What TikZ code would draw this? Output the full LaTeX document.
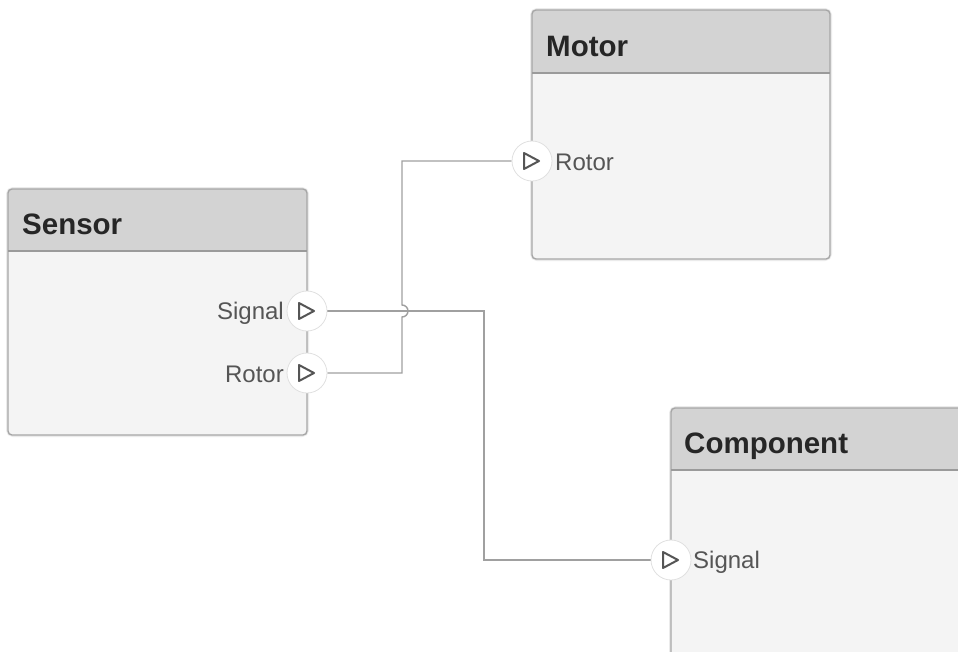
\documentclass[tikz,border=0pt]{standalone}
\usepackage{fontspec}
\setmainfont{Liberation Sans}
\usetikzlibrary{calc}

\definecolor{hdrfill}{HTML}{D3D3D3}
\definecolor{bodyfill}{HTML}{F4F4F4}
\definecolor{edgec}{HTML}{A6A6A6}
\definecolor{sepc}{HTML}{9A9A9A}
\definecolor{wirec}{HTML}{A0A0A0}
\definecolor{titlec}{HTML}{262626}
\definecolor{portc}{HTML}{555555}

\pgfdeclarelayer{blocks}
\pgfdeclarelayer{wires}
\pgfsetlayers{blocks,wires,main}

\tikzset{
  blockbody/.style={fill=bodyfill, rounded corners=4pt, anchor=north west,
    inner sep=0pt, outer sep=0pt},
  blockhalo/.style={draw=black!8, line width=4pt, rounded corners=5pt},
  blockedge/.style={draw=edgec, line width=1.4pt, rounded corners=4pt},
  blocksep/.style={draw=sepc, line width=1.4pt},
  blocktitle/.style={font=\fontsize{29.5}{32}\selectfont\bfseries, text=titlec,
    anchor=base west, inner sep=0pt},
  portdisc/.style={circle, fill=white, draw=black!12, line width=0.8pt,
    minimum size=40pt, inner sep=0pt},
  portlabel/.style={font=\fontsize{24}{28}\selectfont, text=portc, inner sep=0pt},
  wire/.style={draw=wirec, line width=1.4pt},
  portarrow/.style={draw=portc, line width=2pt, line join=round}
}

% a block: body node, grey title band, outline and separator
\newcommand\sysblock[6]{% name, x, y, width, height, title-band height
  \draw[blockhalo] (#2,#3) rectangle ++(#4,#5);
  \node[blockbody, minimum width=#4pt, minimum height=#5pt] (#1) at (#2,#3) {};
  \fill[hdrfill, rounded corners=4pt] ($(#1.north west)+(0,#6)$) -- (#1.north west)
     -- (#1.north east) [sharp corners] -- ($(#1.north east)+(0,#6)$) -- cycle;
  \draw[blockedge] (#1.north west) rectangle (#1.south east);
  \draw[blocksep] ($(#1.north west)+(0,#6)$) -- ($(#1.north east)+(0,#6)$);
}

% the right-pointing port arrow inside a port disc
\newcommand\portmark[1]{%
  \draw[portarrow] ($(#1)+(-8,-8)$) -- ($(#1)+(7,0)$) -- ($(#1)+(-8,8)$) -- cycle;
}

\begin{document}
\begin{tikzpicture}[x=1pt,y=-1pt]
  \useasboundingbox (0,0) rectangle (958,651);
  \clip (0,0) rectangle (958,651);

  % blocks
  \begin{pgfonlayer}{blocks}
    \sysblock{sensor}{8}{189}{299}{246}{62}
    \sysblock{motor}{532}{10}{298}{249}{63}
    \sysblock{component}{671}{408}{320}{280}{62}
  \end{pgfonlayer}

  \node[blocktitle] (sensorTitle) at (22,234) {Sensor};
  \node[blocktitle] (motorTitle) at (546,56) {Motor};
  \node[blocktitle] (componentTitle) at (684,453) {Component};

  % ports
  \node[portdisc] (sSig) at (307,311) {};
  \node[portdisc] (sRot) at (307,373) {};
  \node[portdisc] (mRot) at (532,161) {};
  \node[portdisc] (cSig) at (671,560) {};

  \portmark{sSig}
  \portmark{sRot}
  \portmark{mRot}
  \portmark{cSig}

  % connectors, with a hop where the Rotor line crosses the Signal line
  \coordinate (sigBend) at (484,400);
  \coordinate (rotBendLow) at (402,373);
  \coordinate (hopStart) at (402,317);
  \coordinate (rotBendHigh) at (402,161);

  \begin{pgfonlayer}{wires}
    \draw[wire] (sSig.east) -| (sigBend) |- (cSig.west);
    \draw[wire] (sRot.east) -- (rotBendLow) -- (hopStart)
       arc[start angle=-90, end angle=90, radius=6pt] -- (rotBendHigh) -- (mRot.west);
  \end{pgfonlayer}

  % port labels
  \node[portlabel, anchor=base east] (sSigLabel) at (284,319) {Signal};
  \node[portlabel, anchor=base east] (sRotLabel) at (284,382) {Rotor};
  \node[portlabel, anchor=base west] (mRotLabel) at (555,170) {Rotor};
  \node[portlabel, anchor=base west] (cSigLabel) at (693,568) {Signal};
\end{tikzpicture}
\end{document}
